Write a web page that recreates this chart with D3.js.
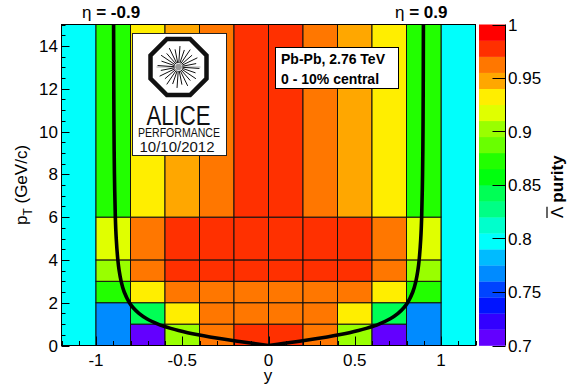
<!DOCTYPE html>
<html><head><meta charset="utf-8">
<script src="https://cdn.jsdelivr.net/npm/d3@7"></script>
<style>
html,body{margin:0;padding:0;background:#fff;}
svg{display:block;font-family:"Liberation Sans",Arial,Helvetica,sans-serif;}
</style>
</head><body>
<svg id="chart" width="569" height="388"></svg>
<script>
// ---------------- data ----------------
const rapidityEdges = [-1.2, -1.0, -0.8, -0.6, -0.4, -0.2, 0, 0.2, 0.4, 0.6, 0.8, 1.0, 1.2];
const ptEdges = [0, 1, 2, 3, 4, 6, 15];
// purity for the inner rapidity bins (-1.0 .. 1.0), one row per pT bin (low pT first)
const purity = [
  [0.768, 0.708, 0.903, 0.963, 0.978, 0.978, 0.963, 0.903, 0.708, 0.768], // 0-1
  [0.768, 0.843, 0.933, 0.963, 0.963, 0.963, 0.963, 0.933, 0.843, 0.768], // 1-2
  [0.873, 0.933, 0.963, 0.963, 0.963, 0.963, 0.963, 0.963, 0.933, 0.873], // 2-3
  [0.903, 0.963, 0.978, 0.978, 0.978, 0.978, 0.978, 0.978, 0.963, 0.903], // 3-4
  [0.918, 0.963, 0.978, 0.978, 0.978, 0.978, 0.978, 0.978, 0.963, 0.918], // 4-6
  [0.873, 0.933, 0.948, 0.963, 0.978, 0.978, 0.963, 0.948, 0.933, 0.873]  // 6-15
];
const outerPurity = 0.798;      // |y| > 1, all pT (single cell)
const mergedLowPtRows = 2;      // 0.8<|y|<1 : pT 0-2 is one cell
// |eta| = 0.9 acceptance boundary (pT, |y|)
const etaCurvePt  = [0, 0.1, 0.2, 0.3, 0.4, 0.5, 0.6, 0.7, 0.8, 0.9, 1.0, 1.25, 1.5, 1.75, 2.0, 2.5, 3.0, 3.5, 4.0, 5.0, 6.0, 8.0, 10.0, 12.0, 15.0];
const etaCurveRap = [0, 0.0915, 0.1802, 0.2635, 0.3399, 0.4084, 0.4688, 0.5216, 0.5672, 0.6066, 0.6404, 0.7058, 0.7511, 0.7830, 0.8062, 0.8364, 0.8543, 0.8658, 0.8734, 0.8827, 0.8879, 0.8931, 0.8956, 0.8969, 0.8980];
const xTickLabels = [-1, -0.5, 0, 0.5, 1];
const yTickLabels = [0, 2, 4, 6, 8, 10, 12, 14];
const zTickValues = [0.7, 0.75, 0.8, 0.85, 0.9, 0.95, 1];
const zTickLabels = ["0.7", "0.75", "0.8", "0.85", "0.9", "0.95", "1"];
const zMin = 0.7, zMax = 1.0, zLevels = 20;

// ---------------- setup ----------------
const svg = d3.select("#chart");
const x = d3.scaleLinear().domain([-1.2, 1.2]).range([61.5, 475.5]);
const y = d3.scaleLinear().domain([0, 15]).range([345.5, 24.5]);
const z = d3.scaleLinear().domain([zMin, zMax]).range([345.5, 24.5]);

// ROOT "pretty" palette (50 colours, hue 280 -> 0) sampled for 20 contours
const palette = d3.range(zLevels).map(i => {
  const k = Math.floor((i + 0.99) * 50 / zLevels);
  const hue = 280 - (k + 1) * 5.6;
  return d3.hsl(hue, 1, 0.5).formatHex();
});
const color = d3.scaleQuantize().domain([zMin, zMax]).range(palette);

// ---------------- cells ----------------
const cells = [];
cells.push({x0: rapidityEdges[0], x1: rapidityEdges[1], p0: ptEdges[0], p1: ptEdges[ptEdges.length-1], v: outerPurity});
cells.push({x0: rapidityEdges[11], x1: rapidityEdges[12], p0: ptEdges[0], p1: ptEdges[ptEdges.length-1], v: outerPurity});
purity.forEach((row, r) => {
  row.forEach((v, c) => {
    const edge = (c === 0 || c === row.length - 1);
    if (edge && r < mergedLowPtRows) {
      if (r === 0) cells.push({x0: rapidityEdges[c+1], x1: rapidityEdges[c+2], p0: ptEdges[0], p1: ptEdges[mergedLowPtRows], v});
      return;
    }
    cells.push({x0: rapidityEdges[c+1], x1: rapidityEdges[c+2], p0: ptEdges[r], p1: ptEdges[r+1], v});
  });
});

svg.append("g").selectAll("rect").data(cells).join("rect")
  .attr("x", d => x(d.x0)).attr("y", d => y(d.p1))
  .attr("width", d => x(d.x1) - x(d.x0)).attr("height", d => y(d.p0) - y(d.p1))
  .attr("fill", d => color(d.v))
  .attr("stroke", "#111").attr("stroke-width", 1);

// ---------------- eta curve ----------------
svg.append("clipPath").attr("id", "clip").append("rect")
  .attr("x", x(-1.2)).attr("y", y(15)).attr("width", x(1.2) - x(-1.2)).attr("height", y(0) - y(15));
const curvePts = [];
for (let i = etaCurvePt.length - 1; i >= 0; i--) curvePts.push([-etaCurveRap[i], etaCurvePt[i]]);
for (let i = 1; i < etaCurvePt.length; i++) curvePts.push([etaCurveRap[i], etaCurvePt[i]]);
const line = d3.line().x(d => x(d[0])).y(d => y(d[1])).curve(d3.curveCatmullRom.alpha(0.5));
// draw left and right halves separately so the V at the origin stays sharp
const half = etaCurvePt.length;
svg.append("path").attr("clip-path", "url(#clip)")
  .attr("d", line(curvePts.slice(0, half)))
  .attr("fill", "none").attr("stroke", "#000").attr("stroke-width", 3.6).attr("stroke-linejoin", "round");
svg.append("path").attr("clip-path", "url(#clip)")
  .attr("d", line(curvePts.slice(half - 1)))
  .attr("fill", "none").attr("stroke", "#000").attr("stroke-width", 3.6).attr("stroke-linejoin", "round");

// ---------------- frame and axes ----------------
svg.append("rect").attr("x", x(-1.2)).attr("y", y(15))
  .attr("width", x(1.2) - x(-1.2)).attr("height", y(0) - y(15))
  .attr("fill", "none").attr("stroke", "#000").attr("stroke-width", 1);

const axG = svg.append("g").attr("stroke", "#000").attr("stroke-width", 1);
// x ticks (inward, upward)
d3.range(-12, 13).forEach(i => {
  const v = i / 10;
  const major = xTickLabels.some(t => Math.abs(t - v) < 1e-6);
  axG.append("line").attr("x1", Math.round(x(v)) + 0.5).attr("x2", Math.round(x(v)) + 0.5)
    .attr("y1", y(0)).attr("y2", y(0) - (major ? 9 : 4.5));
});
// y ticks (inward, rightward)
d3.range(0, 31).forEach(i => {
  const v = i / 2;
  const major = yTickLabels.includes(v);
  axG.append("line").attr("y1", Math.round(y(v)) + 0.5).attr("y2", Math.round(y(v)) + 0.5)
    .attr("x1", x(-1.2)).attr("x2", x(-1.2) + (major ? 8 : 4));
});

const lab = svg.append("g").attr("font-size", 17).attr("fill", "#000");
xTickLabels.forEach(v => {
  lab.append("text").attr("x", x(v)).attr("y", 366).attr("text-anchor", "middle").text(String(v));
});
yTickLabels.forEach(v => {
  lab.append("text").attr("x", 58).attr("y", y(v)).attr("dy", "0.36em").attr("text-anchor", "end").text(String(v));
});
lab.append("text").attr("x", 268).attr("y", 381).attr("text-anchor", "middle").text("y");
const yt = lab.append("text").attr("transform", "translate(27,185) rotate(-90)").attr("text-anchor", "middle");
yt.append("tspan").text("p");
yt.append("tspan").attr("dy", 5).attr("font-size", 12).text("T");
yt.append("tspan").attr("dy", -5).text(" (GeV/c)");

// ---------------- colour bar ----------------
const cbX0 = 479, cbX1 = 505.5;
svg.append("g").selectAll("rect").data(palette).join("rect")
  .attr("x", cbX0).attr("width", cbX1 - cbX0)
  .attr("y", (d, i) => z(zMin + (i + 1) * (zMax - zMin) / zLevels))
  .attr("height", (d, i) => z(zMin + i * (zMax - zMin) / zLevels) - z(zMin + (i + 1) * (zMax - zMin) / zLevels) + 0.3)
  .attr("fill", d => d);
svg.append("line").attr("x1", cbX1).attr("x2", cbX1).attr("y1", z(zMin)).attr("y2", z(zMax))
  .attr("stroke", "#000").attr("stroke-width", 1);
zTickValues.forEach((v, i) => {
  svg.append("line").attr("x1", cbX1).attr("x2", cbX1 - 13)
    .attr("y1", Math.round(z(v)) + 0.5).attr("y2", Math.round(z(v)) + 0.5)
    .attr("stroke", "#000").attr("stroke-width", 1);
  lab.append("text").attr("x", 508).attr("y", z(v)).attr("dy", "0.36em").text(zTickLabels[i]);
});
// z title
const zt = svg.append("g").attr("transform", "translate(563,185) rotate(-90)");
const lam = zt.append("text").attr("x", -33).attr("font-size", 17).text("\u039B");
const lw = lam.node().getComputedTextLength();
zt.append("line").attr("x1", -33).attr("x2", -33 + lw).attr("y1", -16).attr("y2", -16)
  .attr("stroke", "#000").attr("stroke-width", 1.2);
zt.append("text").attr("x", -33 + lw + 4).attr("font-size", 17).attr("font-weight", "bold").text("purity");

// ---------------- eta labels ----------------
[["-0.9", 82], ["0.9", 395]].forEach(([t, xp]) => {
  const tx = svg.append("text").attr("x", xp).attr("y", 18).attr("font-size", 17);
  tx.append("tspan").text("\u03B7");
  tx.append("tspan").attr("font-weight", "bold").text(" = " + t);
});

// ---------------- ALICE performance box ----------------
const logo = svg.append("g");
logo.append("rect").attr("x", 132.5).attr("y", 33.5).attr("width", 94).attr("height", 122)
  .attr("fill", "#fff").attr("stroke", "#222").attr("stroke-width", 1);
const cx = 178.5, cy = 67, R = 28 / Math.cos(Math.PI / 8);
const oct = d3.range(8).map(k => {
  const a = Math.PI / 8 + k * Math.PI / 4;
  return [cx + R * Math.cos(a), cy + R * Math.sin(a)];
});
logo.append("polygon").attr("points", oct.map(p => p.join(",")).join(" "))
  .attr("fill", "#fff").attr("stroke", "#111").attr("stroke-width", 4.5).attr("stroke-linejoin", "miter");
logo.append("line").attr("x1", cx - 22).attr("x2", cx + 22).attr("y1", cy).attr("y2", cy)
  .attr("stroke", "#aaa").attr("stroke-width", 1);
d3.range(24).forEach(k => {
  const a = k * Math.PI * 2 / 24 + 0.07;
  const r1 = (k % 2 === 0) ? 21 : 18;
  logo.append("line")
    .attr("x1", cx + 4 * Math.cos(a)).attr("y1", cy + 4 * Math.sin(a))
    .attr("x2", cx + r1 * Math.cos(a)).attr("y2", cy + r1 * Math.sin(a))
    .attr("stroke", "#111").attr("stroke-width", 1);
});
logo.append("circle").attr("cx", cx).attr("cy", cy).attr("r", 3.2).attr("fill", "#999");
logo.append("text").attr("x", 178.5).attr("y", 125).attr("text-anchor", "middle")
  .attr("font-size", 27).attr("textLength", 64).attr("lengthAdjust", "spacingAndGlyphs")
  .attr("fill", "#111").text("ALICE");
logo.append("text").attr("x", 179).attr("y", 137).attr("text-anchor", "middle")
  .attr("font-size", 12).attr("textLength", 82).attr("lengthAdjust", "spacingAndGlyphs")
  .attr("fill", "#111").text("PERFORMANCE");
logo.append("text").attr("x", 177).attr("y", 152).attr("text-anchor", "middle")
  .attr("font-size", 15).attr("fill", "#111").text("10/10/2012");

// ---------------- collision system box ----------------
svg.append("rect").attr("x", 275.5).attr("y", 47.5).attr("width", 123).attr("height", 41)
  .attr("fill", "#fff").attr("stroke", "#000").attr("stroke-width", 1);
svg.append("text").attr("x", 281).attr("y", 64).attr("font-size", 14).attr("font-weight", "bold").text("Pb-Pb, 2.76 TeV");
svg.append("text").attr("x", 281).attr("y", 84).attr("font-size", 14).attr("font-weight", "bold").text("0 - 10% central");
</script>
</body></html>
